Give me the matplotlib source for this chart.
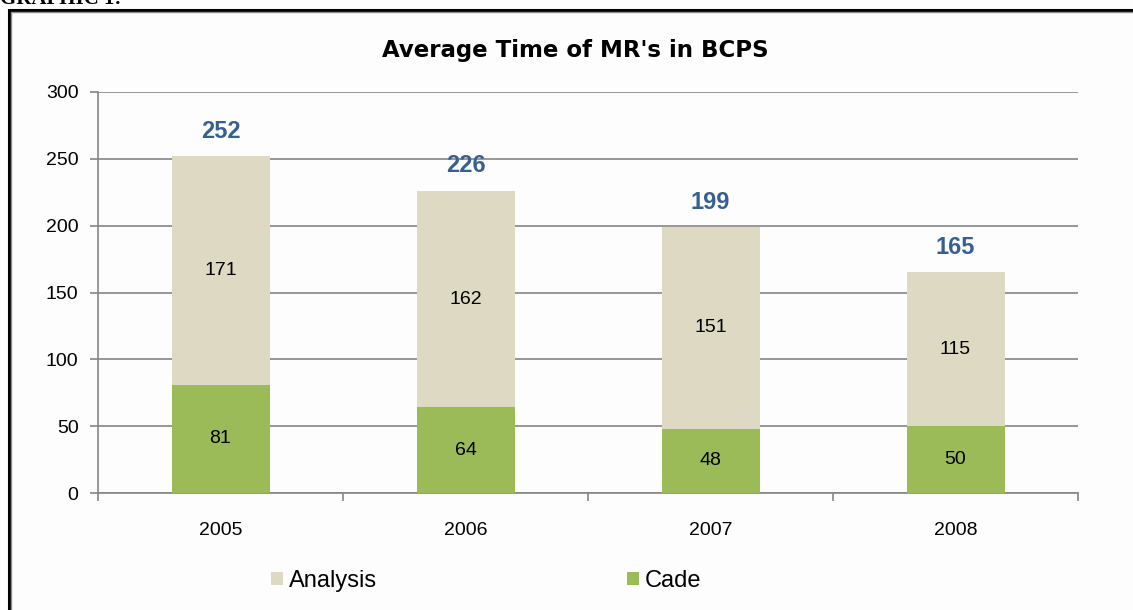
import matplotlib.pyplot as plt
from matplotlib.patches import Rectangle
import numpy as np

plt.rcParams['font.family'] = ['Liberation Sans', 'DejaVu Sans']

years = ['2005', '2006', '2007', '2008']
cade = [81, 64, 48, 50]
analysis = [171, 162, 151, 115]
totals = [252, 226, 199, 165]

fig = plt.figure(figsize=(11.33, 6.10), dpi=100)
fig.patch.set_facecolor('#fdfdfd')

# outer frame (runs off the right/bottom edge like the scan)
fig.patches.append(Rectangle((9 / 1133, -0.1), 1.2, 1.1 - 10 / 610,
                             transform=fig.transFigure, fill=False,
                             edgecolor='black', linewidth=2.2))
fig.patches.append(Rectangle((11 / 1133, -0.1), 1.2, 1.1 - 12 / 610,
                             transform=fig.transFigure, fill=False,
                             edgecolor='#8c8c8c', linewidth=1.0))
fig.text(0.0, 1 - 4 / 610, 'GRAPHIC 1:', fontsize=15, weight='bold',
         family='Liberation Serif', va='baseline')

ax = fig.add_axes([98 / 1133, 1 - 493 / 610, 980 / 1133, 401 / 610])
ax.set_facecolor('#fdfdfd')
x = np.arange(len(years))
w = 0.4

b1 = ax.bar(x, cade, w, color='#9bbb59', label='Cade', zorder=3)
b2 = ax.bar(x, analysis, w, bottom=cade, color='#ddd9c3', label='Analysis', zorder=3)

for i in range(len(years)):
    ax.text(x[i], cade[i] / 2, str(cade[i]), ha='center', va='center', fontsize=14)
    ax.text(x[i], cade[i] + analysis[i] / 2, str(analysis[i]), ha='center',
            va='center', fontsize=14)
    ax.annotate(str(totals[i]), (x[i], totals[i]), xytext=(0, 18),
                textcoords='offset points', ha='center', va='center',
                fontsize=17, weight='bold', color='#376092')

ax.set_xlim(-0.5, 3.5)
ax.set_ylim(0, 300)
ax.set_yticks(range(0, 301, 50))
ax.yaxis.grid(True, color='#868686', linewidth=1.2, zorder=0)
ax.set_axisbelow(True)
for s in ['top', 'right']:
    ax.spines[s].set_visible(False)
for s in ['left', 'bottom']:
    ax.spines[s].set_color('#868686')
    ax.spines[s].set_linewidth(1.2)

ax.set_xticks(x)
ax.set_xticklabels(years)
ax.set_xticks(np.arange(-0.5, 3.6, 1), minor=True)
ax.tick_params(axis='x', which='major', length=0, pad=21, labelsize=14)
ax.tick_params(axis='x', which='minor', length=6, color='#868686', width=1.2)
ax.tick_params(axis='y', length=6, color='#868686', width=1.2, pad=8, labelsize=14)

ax.set_title("Average Time of MR's in BCPS", fontsize=16.5, weight='bold',
             family='DejaVu Sans', pad=25, x=(575 - 98) / 980)

handles = [b2, b1]
leg = fig.legend(handles, ['Analysis', 'Cade'], loc='center',
                 bbox_to_anchor=(486 / 1133, 1 - 581 / 610), ncol=2,
                 frameon=False, fontsize=17, handlelength=0.5, handleheight=0.5,
                 handletextpad=0.25, columnspacing=10.6)

plt.savefig('out.png', dpi=100, facecolor=fig.get_facecolor())
